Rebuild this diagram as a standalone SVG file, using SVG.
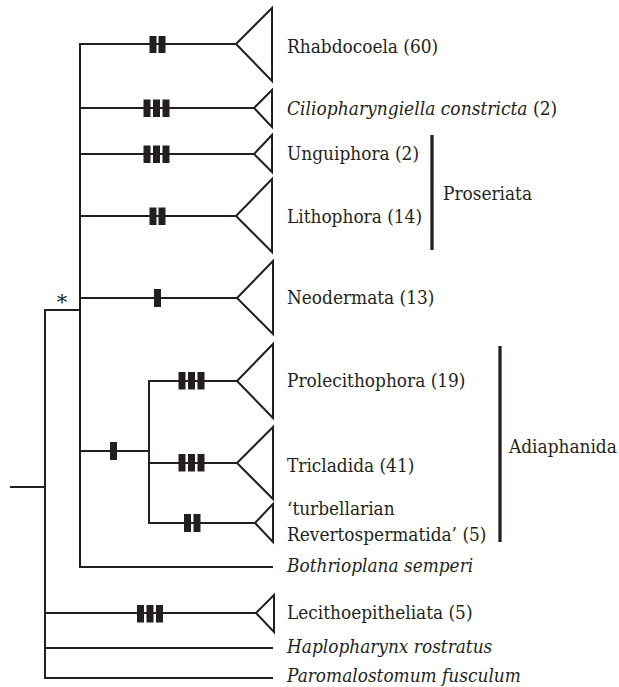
<svg xmlns="http://www.w3.org/2000/svg" width="619" height="687" viewBox="0 0 619 687">
<style>
.br{stroke:#231f20;stroke-width:2;fill:none;stroke-linecap:square}
.tri{stroke:#231f20;stroke-width:2;fill:none;stroke-linejoin:miter}
.bar{fill:#231f20}
.grp{stroke:#231f20;stroke-width:3.3}
.t{font-family:'DejaVu Serif',serif;font-size:19px;fill:#231f20}
.it{font-style:italic}
</style>
<rect width="619" height="687" fill="#fff"/>
<g id="connectors">
<path class="br" d="M11 487H45M45 310V678M45 310H80M80 44V567M80 44H236M80 108H254M80 154H254M80 216H236M80 298H237M80 451H149M149 381V523M149 381H237M149 463H237M149 523H255M80 567H272M45 613H256M45 648H272M45 678H272"/>
<g class="bar">
<rect x="149.5" y="36" width="7" height="17"/><rect x="158.5" y="36" width="7" height="17"/>
<rect x="143.5" y="99.5" width="7" height="17.5"/><rect x="153" y="99.5" width="7" height="17.5"/><rect x="162.5" y="99.5" width="7" height="17.5"/>
<rect x="143.5" y="145.5" width="7" height="17.5"/><rect x="153" y="145.5" width="7" height="17.5"/><rect x="162.5" y="145.5" width="7" height="17.5"/>
<rect x="149.5" y="207.5" width="7" height="17.5"/><rect x="158.5" y="207.5" width="7" height="17.5"/>
<rect x="154" y="289" width="7" height="18"/>
<rect x="110" y="442" width="7" height="18"/>
<rect x="178.5" y="372" width="7" height="17.5"/><rect x="188" y="372" width="7" height="17.5"/><rect x="197.5" y="372" width="7" height="17.5"/>
<rect x="178.5" y="454" width="7" height="17.5"/><rect x="188" y="454" width="7" height="17.5"/><rect x="197.5" y="454" width="7" height="17.5"/>
<rect x="184" y="514" width="7" height="18"/><rect x="193.5" y="514" width="7" height="18"/>
<rect x="137" y="605" width="7" height="17.5"/><rect x="146.5" y="605" width="7" height="17.5"/><rect x="156" y="605" width="7" height="17.5"/>
</g>
<text class="t" x="62" y="309" text-anchor="middle" style="font-size:21px">*</text>
</g>
<g id="rhabdocoela"><polygon class="tri" points="272,8 236,44 272,81"/><text class="t" transform="matrix(0.893 0 0 1 287 53)">Rhabdocoela (60)</text></g>
<g id="ciliopharyngiella"><polygon class="tri" points="272,90 254,108 272,127"/><text class="t" transform="matrix(0.9 0 0 1 287 115)"><tspan class="it">Ciliopharyngiella constricta</tspan> (2)</text></g>
<g id="unguiphora"><polygon class="tri" points="272,135 254,154 272,172"/><text class="t" transform="matrix(0.893 0 0 1 287 160)">Unguiphora (2)</text></g>
<g id="lithophora"><polygon class="tri" points="272,179 236,216 272,252"/><text class="t" transform="matrix(0.893 0 0 1 287 223)">Lithophora (14)</text></g>
<g id="proseriata"><line class="grp" x1="432" y1="135" x2="432" y2="250"/><text class="t" transform="matrix(0.893 0 0 1 443 200)">Proseriata</text></g>
<g id="neodermata"><polygon class="tri" points="273,261 237,298 273,334"/><text class="t" transform="matrix(0.893 0 0 1 287 304)">Neodermata (13)</text></g>
<g id="prolecithophora"><polygon class="tri" points="273,344 237,381 273,418"/><text class="t" transform="matrix(0.893 0 0 1 287 387)">Prolecithophora (19)</text></g>
<g id="tricladida"><polygon class="tri" points="273,427 237,463 273,499"/><text class="t" transform="matrix(0.893 0 0 1 287 472)">Tricladida (41)</text></g>
<g id="revertospermatida"><polygon class="tri" points="273,504 255,523 273,542"/><text class="t" transform="matrix(0.893 0 0 1 287 515)">‘turbellarian</text><text class="t" transform="matrix(0.893 0 0 1 287 541)">Revertospermatida’ (5)</text></g>
<g id="adiaphanida"><line class="grp" x1="500" y1="346" x2="500" y2="542"/><text class="t" transform="matrix(0.893 0 0 1 509 453)">Adiaphanida</text></g>
<g id="bothrioplana"><text class="t it" transform="matrix(0.893 0 0 1 287 572)">Bothrioplana semperi</text></g>
<g id="lecithoepitheliata"><polygon class="tri" points="274,595 256,613 274,632"/><text class="t" transform="matrix(0.893 0 0 1 287 619)">Lecithoepitheliata (5)</text></g>
<g id="haplopharynx"><text class="t it" transform="matrix(0.893 0 0 1 287 653)">Haplopharynx rostratus</text></g>
<g id="paromalostomum"><text class="t it" transform="matrix(0.893 0 0 1 287 682)">Paromalostomum fusculum</text></g>
</svg>
